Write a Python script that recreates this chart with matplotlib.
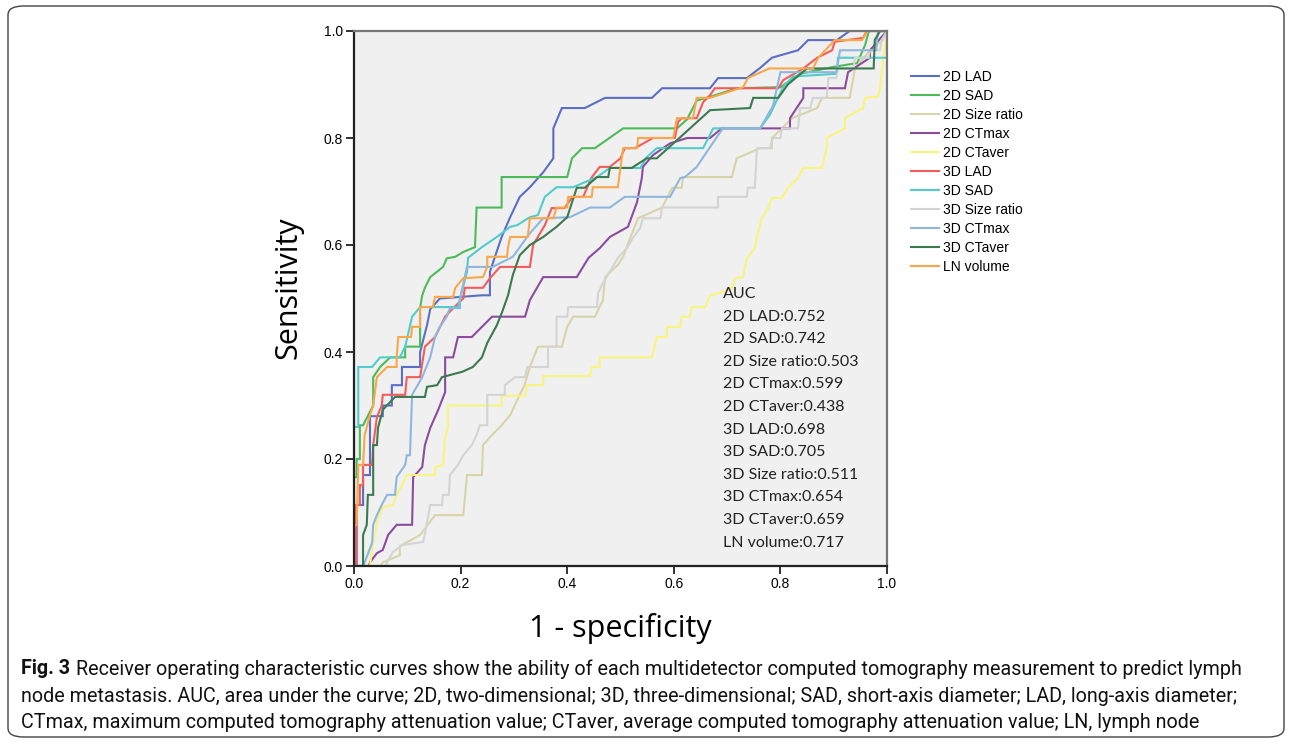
import matplotlib.pyplot as plt
from matplotlib.patches import FancyBboxPatch

plt.rcParams.update({
    'font.family': 'Liberation Sans',
    'font.size': 10,
})

# =====================
# Data ((1 - specificity, sensitivity))
# =====================
labels = ["2D LAD", "2D SAD", "2D Size ratio", "2D CTmax", "2D CTaver",
          "3D LAD", "3D SAD", "3D Size ratio", "3D CTmax", "3D CTaver", "LN volume"]
auc_values = [0.752, 0.742, 0.503, 0.599, 0.438, 0.698, 0.705, 0.511, 0.654, 0.659, 0.717]

lad_2d = [(0, 0), (0.005, 0), (0.005, 0.114), (0.017, 0.114), (0.017, 0.17), (0.03, 0.17),
          (0.03, 0.28), (0.054, 0.28), (0.054, 0.30), (0.071, 0.30), (0.071, 0.338),
          (0.09, 0.338), (0.09, 0.372), (0.124, 0.372), (0.124, 0.40), (0.137, 0.45),
          (0.143, 0.48), (0.161, 0.5), (0.24, 0.506), (0.255, 0.506), (0.255, 0.55),
          (0.277, 0.615), (0.293, 0.652), (0.311, 0.69), (0.33, 0.708), (0.355, 0.736),
          (0.374, 0.762), (0.374, 0.818), (0.39, 0.856), (0.433, 0.856), (0.471, 0.875),
          (0.559, 0.875), (0.578, 0.893), (0.668, 0.893), (0.683, 0.912), (0.737, 0.912),
          (0.762, 0.931), (0.784, 0.95), (0.833, 0.964), (0.852, 0.983), (0.906, 0.983),
          (0.93, 1.0), (1, 1)]

sad_2d = [(0, 0), (0, 0.166), (0.005, 0.166), (0.005, 0.2), (0.011, 0.2), (0.011, 0.263),
          (0.017, 0.263), (0.036, 0.30), (0.036, 0.353), (0.049, 0.372), (0.068, 0.39),
          (0.096, 0.39), (0.096, 0.41), (0.124, 0.41), (0.124, 0.482), (0.128, 0.506),
          (0.133, 0.52), (0.143, 0.54), (0.167, 0.559), (0.174, 0.575), (0.19, 0.578),
          (0.205, 0.587), (0.227, 0.596), (0.23, 0.67), (0.277, 0.67), (0.277, 0.727),
          (0.40, 0.727), (0.409, 0.762), (0.428, 0.781), (0.452, 0.781), (0.505, 0.818),
          (0.606, 0.818), (0.625, 0.835), (0.643, 0.87), (0.668, 0.877), (0.718, 0.893),
          (0.8, 0.895), (0.837, 0.92), (0.9, 0.933), (0.944, 0.94), (0.959, 0.974),
          (0.966, 1.0), (1, 1)]

ratio_2d = [(0, 0), (0.05, 0), (0.054, 0.007), (0.086, 0.02), (0.086, 0.037), (0.124, 0.058),
            (0.152, 0.095), (0.205, 0.095), (0.212, 0.17), (0.24, 0.17), (0.242, 0.226),
            (0.259, 0.245), (0.277, 0.263), (0.293, 0.282), (0.311, 0.32), (0.32, 0.338),
            (0.33, 0.372), (0.345, 0.41), (0.39, 0.41), (0.40, 0.447), (0.411, 0.466),
            (0.452, 0.466), (0.467, 0.497), (0.471, 0.54), (0.495, 0.563), (0.505, 0.578),
            (0.518, 0.613), (0.533, 0.65), (0.578, 0.67), (0.597, 0.707), (0.615, 0.707),
            (0.617, 0.727), (0.709, 0.727), (0.718, 0.762), (0.762, 0.781), (0.784, 0.781),
            (0.784, 0.80), (0.803, 0.818), (0.822, 0.837), (0.869, 0.856), (0.878, 0.875),
            (0.93, 0.875), (0.94, 0.93), (0.968, 0.964), (0.98, 0.974), (0.992, 0.983),
            (1, 1)]

ctmax_2d = [(0, 0), (0.028, 0), (0.03, 0.007), (0.043, 0.024), (0.054, 0.03), (0.064, 0.058),
            (0.08, 0.077), (0.109, 0.077), (0.111, 0.166), (0.128, 0.185), (0.133, 0.226),
            (0.143, 0.258), (0.158, 0.292), (0.171, 0.325), (0.171, 0.39), (0.186, 0.39),
            (0.195, 0.428), (0.221, 0.428), (0.259, 0.466), (0.321, 0.466), (0.33, 0.497),
            (0.355, 0.54), (0.418, 0.54), (0.44, 0.576), (0.461, 0.594), (0.48, 0.615),
            (0.514, 0.634), (0.531, 0.68), (0.54, 0.725), (0.542, 0.746), (0.561, 0.768),
            (0.593, 0.79), (0.625, 0.80), (0.668, 0.80), (0.69, 0.818), (0.818, 0.818),
            (0.818, 0.837), (0.843, 0.875), (0.843, 0.893), (0.921, 0.893), (0.927, 0.923),
            (0.968, 0.95), (0.968, 0.964), (0.99, 0.989), (1, 1)]

ctaver_2d = [(0, 0), (0.03, 0), (0.034, 0.034), (0.043, 0.082), (0.045, 0.09), (0.054, 0.11),
             (0.073, 0.114), (0.08, 0.133), (0.09, 0.151), (0.099, 0.17), (0.152, 0.17),
             (0.152, 0.185), (0.167, 0.189), (0.171, 0.241), (0.176, 0.258), (0.176, 0.30),
             (0.277, 0.30), (0.277, 0.318), (0.321, 0.318), (0.325, 0.338), (0.355, 0.338),
             (0.355, 0.355), (0.443, 0.355), (0.446, 0.372), (0.461, 0.372), (0.461, 0.39),
             (0.559, 0.39), (0.568, 0.428), (0.587, 0.428), (0.587, 0.447), (0.612, 0.447),
             (0.615, 0.466), (0.63, 0.466), (0.634, 0.484), (0.659, 0.484), (0.668, 0.506),
             (0.692, 0.512), (0.709, 0.52), (0.715, 0.538), (0.73, 0.54), (0.737, 0.575),
             (0.752, 0.594), (0.756, 0.615), (0.765, 0.65), (0.777, 0.669), (0.784, 0.688),
             (0.803, 0.688), (0.814, 0.707), (0.833, 0.725), (0.843, 0.744), (0.878, 0.744),
             (0.887, 0.781), (0.887, 0.80), (0.921, 0.818), (0.921, 0.837), (0.955, 0.856),
             (0.959, 0.875), (0.983, 0.877), (0.987, 0.893), (0.993, 0.95), (1, 0.99), (1, 1)]

lad_3d = [(0, 0), (0.004, 0), (0.004, 0.114), (0.011, 0.114), (0.011, 0.151), (0.017, 0.151),
          (0.017, 0.189), (0.034, 0.189), (0.036, 0.226), (0.043, 0.278), (0.052, 0.30),
          (0.054, 0.32), (0.096, 0.32), (0.099, 0.353), (0.124, 0.353), (0.133, 0.41),
          (0.152, 0.428), (0.171, 0.466), (0.186, 0.482), (0.205, 0.5), (0.208, 0.52),
          (0.242, 0.52), (0.255, 0.538), (0.274, 0.559), (0.33, 0.559), (0.336, 0.6),
          (0.358, 0.637), (0.371, 0.669), (0.395, 0.669), (0.41, 0.69), (0.43, 0.69),
          (0.445, 0.725), (0.461, 0.746), (0.48, 0.746), (0.5, 0.762), (0.508, 0.781),
          (0.527, 0.781), (0.561, 0.80), (0.602, 0.80), (0.608, 0.83), (0.615, 0.837),
          (0.643, 0.837), (0.655, 0.867), (0.668, 0.88), (0.677, 0.893), (0.796, 0.893),
          (0.805, 0.908), (0.843, 0.93), (0.869, 0.95), (0.897, 0.964), (0.902, 0.98),
          (0.955, 0.987), (0.962, 1.0), (1, 1)]

sad_3d = [(0, 0), (0, 0.26), (0.008, 0.26), (0.008, 0.372), (0.034, 0.372), (0.049, 0.39),
          (0.086, 0.39), (0.096, 0.41), (0.109, 0.466), (0.124, 0.484), (0.195, 0.484),
          (0.199, 0.5), (0.212, 0.55), (0.214, 0.576), (0.24, 0.596), (0.268, 0.615),
          (0.293, 0.634), (0.306, 0.637), (0.33, 0.652), (0.345, 0.656), (0.358, 0.69),
          (0.38, 0.708), (0.411, 0.708), (0.456, 0.727), (0.48, 0.744), (0.537, 0.744),
          (0.549, 0.764), (0.568, 0.781), (0.655, 0.781), (0.674, 0.818), (0.762, 0.818),
          (0.78, 0.843), (0.805, 0.895), (0.824, 0.915), (0.906, 0.92), (0.908, 0.95),
          (1, 0.95), (1, 1)]

ratio_3d = [(0, 0), (0.06, 0), (0.062, 0.007), (0.073, 0.026), (0.09, 0.039), (0.13, 0.045),
            (0.143, 0.114), (0.165, 0.114), (0.167, 0.133), (0.178, 0.133), (0.18, 0.17),
            (0.195, 0.189), (0.205, 0.207), (0.221, 0.226), (0.23, 0.245), (0.236, 0.263),
            (0.25, 0.263), (0.25, 0.32), (0.283, 0.32), (0.283, 0.338), (0.302, 0.353),
            (0.321, 0.353), (0.325, 0.372), (0.364, 0.372), (0.364, 0.41), (0.38, 0.41),
            (0.38, 0.466), (0.40, 0.466), (0.402, 0.484), (0.456, 0.484), (0.458, 0.51),
            (0.465, 0.525), (0.495, 0.576), (0.512, 0.594), (0.523, 0.613), (0.537, 0.632),
            (0.542, 0.65), (0.575, 0.65), (0.578, 0.67), (0.683, 0.67), (0.683, 0.69),
            (0.737, 0.69), (0.739, 0.707), (0.752, 0.707), (0.756, 0.781), (0.78, 0.781),
            (0.786, 0.80), (0.80, 0.80), (0.803, 0.818), (0.833, 0.818), (0.837, 0.856),
            (0.856, 0.856), (0.861, 0.875), (0.887, 0.875), (0.89, 0.912), (0.905, 0.912),
            (0.908, 0.93), (0.937, 0.93), (0.94, 0.95), (0.965, 0.95), (0.968, 0.964),
            (0.987, 0.964), (0.99, 0.983), (1, 1)]

ctmax_3d = [(0, 0), (0.018, 0), (0.02, 0.007), (0.034, 0.043), (0.036, 0.077), (0.043, 0.095),
            (0.052, 0.114), (0.062, 0.133), (0.077, 0.133), (0.08, 0.166), (0.096, 0.189),
            (0.099, 0.207), (0.105, 0.207), (0.109, 0.32), (0.128, 0.353), (0.143, 0.39),
            (0.152, 0.428), (0.161, 0.447), (0.174, 0.466), (0.18, 0.482), (0.199, 0.482),
            (0.199, 0.5), (0.212, 0.559), (0.26, 0.559), (0.298, 0.578), (0.33, 0.622),
            (0.355, 0.65), (0.405, 0.652), (0.443, 0.67), (0.48, 0.67), (0.508, 0.69),
            (0.593, 0.69), (0.612, 0.725), (0.621, 0.727), (0.643, 0.746), (0.668, 0.783),
            (0.692, 0.818), (0.762, 0.818), (0.786, 0.86), (0.80, 0.923), (0.905, 0.923),
            (0.912, 0.964), (0.98, 0.964), (0.983, 1.0), (1, 1)]

ctaver_3d = [(0, 0), (0.017, 0), (0.017, 0.058), (0.024, 0.077), (0.026, 0.133), (0.036, 0.133),
             (0.036, 0.226), (0.043, 0.226), (0.045, 0.258), (0.054, 0.292), (0.077, 0.316),
             (0.133, 0.316), (0.137, 0.335), (0.156, 0.338), (0.165, 0.353), (0.203, 0.363),
             (0.223, 0.372), (0.24, 0.39), (0.25, 0.417), (0.268, 0.45), (0.278, 0.475),
             (0.289, 0.506), (0.298, 0.544), (0.311, 0.581), (0.33, 0.6), (0.355, 0.615),
             (0.38, 0.634), (0.40, 0.652), (0.418, 0.707), (0.433, 0.707), (0.456, 0.727),
             (0.477, 0.727), (0.48, 0.744), (0.521, 0.744), (0.549, 0.762), (0.568, 0.762),
             (0.606, 0.796), (0.668, 0.852), (0.743, 0.856), (0.749, 0.875), (0.796, 0.875),
             (0.814, 0.9), (0.85, 0.93), (0.975, 0.93), (0.977, 0.983), (0.987, 1.0), (1, 1)]

ln_volume = [(0, 0), (0, 0.075), (0.005, 0.077), (0.008, 0.189), (0.017, 0.189), (0.02, 0.245),
             (0.03, 0.282), (0.036, 0.30), (0.043, 0.353), (0.062, 0.372), (0.08, 0.372),
             (0.08, 0.39), (0.083, 0.428), (0.107, 0.428), (0.109, 0.447), (0.124, 0.447),
             (0.124, 0.484), (0.148, 0.484), (0.152, 0.503), (0.186, 0.503), (0.19, 0.52),
             (0.205, 0.538), (0.242, 0.54), (0.25, 0.559), (0.25, 0.578), (0.287, 0.578),
             (0.289, 0.596), (0.293, 0.615), (0.326, 0.615), (0.33, 0.65), (0.374, 0.65),
             (0.38, 0.67), (0.40, 0.67), (0.402, 0.69), (0.446, 0.69), (0.448, 0.708),
             (0.495, 0.708), (0.505, 0.781), (0.531, 0.781), (0.533, 0.80), (0.599, 0.80),
             (0.606, 0.837), (0.636, 0.837), (0.643, 0.875), (0.668, 0.875), (0.73, 0.895),
             (0.739, 0.912), (0.779, 0.93), (0.861, 0.93), (0.871, 0.95), (0.902, 0.983),
             (0.953, 0.983), (0.964, 1.0), (1, 1)]

curves = [lad_2d, sad_2d, ratio_2d, ctmax_2d, ctaver_2d,
          lad_3d, sad_3d, ratio_3d, ctmax_3d, ctaver_3d, ln_volume]

colors = ["#5a6fc4", "#4dbb5a", "#d9d4a8", "#8b4c9e", "#f8f47e",
          "#f45b5b", "#52cccc", "#d4d4d4", "#8fb6de", "#3b7a4f", "#f8a84a"]

caption_lines = [
    "Receiver operating characteristic curves show the ability of each multidetector computed tomography measurement to predict lymph",
    "node metastasis. AUC, area under the curve; 2D, two-dimensional; 3D, three-dimensional; SAD, short-axis diameter; LAD, long-axis diameter;",
    "CTmax, maximum computed tomography attenuation value; CTaver, average computed tomography attenuation value; LN, lymph node",
]

# =====================
# Figure
# =====================
fig = plt.figure(figsize=(12.92, 7.45), dpi=100)

# rounded frame round the whole figure
frame = FancyBboxPatch((8 / 1292, 8 / 745), 1 - 16 / 1292, 1 - 14 / 745,
                       boxstyle="round,pad=0,rounding_size=0.012",
                       transform=fig.transFigure, facecolor="none",
                       edgecolor="#444444", linewidth=1.0, zorder=-1)
fig.patches.append(frame)

ax = fig.add_axes([354 / 1292, 1 - 566 / 745, 533 / 1292, 535 / 745])
ax.set_facecolor("#f0f0f0")

for pts, c, lab in zip(curves, colors, labels):
    xs = [p[0] for p in pts]
    ys = [p[1] for p in pts]
    ax.plot(xs, ys, color=c, linewidth=1.5, label=lab, solid_joinstyle="miter")

ax.set_xlim(0, 1)
ax.set_ylim(0, 1)
ticks = [0.0, 0.2, 0.4, 0.6, 0.8, 1.0]
ax.set_xticks(ticks)
ax.set_yticks(ticks)
ax.set_xticklabels([f"{t:.1f}" for t in ticks], fontsize=10)
ax.set_yticklabels([f"{t:.1f}" for t in ticks], fontsize=10)
ax.tick_params(direction="out", length=6, width=1.3, color="#222222", pad=2)

for side in ["left", "bottom"]:
    ax.spines[side].set_color("#222222")
    ax.spines[side].set_linewidth(1.6)
for side in ["top", "right"]:
    ax.spines[side].set_color("#777777")
    ax.spines[side].set_linewidth(1.6)

ax.set_xlabel("1 - specificity", fontsize=22, family="Open Sans", va="center")
ax.set_ylabel("Sensitivity", fontsize=22, family="Open Sans", va="center")
ax.xaxis.set_label_coords(0.5, (566 - 628) / 535)
ax.yaxis.set_label_coords((288 - 354) / 533, (566 - 288) / 535)

# AUC block inside the plot
auc_lines = ["AUC"] + [f"{lab}:{v:.3f}" for lab, v in zip(labels, auc_values)]
y_top = (566 - 294) / 535
step = 22.6 / 535
for i, line in enumerate(auc_lines):
    ax.text(0.692, y_top - i * step, line, transform=ax.transAxes,
            fontsize=11.5, family="Lato", va="center", ha="left", color="#222222")

# legend to the right of the plot
fig.legend(loc="upper left", bbox_to_anchor=(911 / 1292, 1 - 70 / 745),
           frameon=False, fontsize=10, handlelength=2.0, handletextpad=0.3,
           labelspacing=0.36, borderpad=0, borderaxespad=0)

# caption
renderer = fig.canvas.get_renderer()
line_y = [669, 697, 723]
cap_size = 14.2
bold = fig.text(21 / 1292, 1 - line_y[0] / 745, "Fig. 3", fontsize=cap_size, family="Roboto",
                fontweight="bold", va="center", ha="left", color="#111111")
bb = bold.get_window_extent(renderer=renderer)
fig.text((bb.x1 + 6) / 1292, 1 - line_y[0] / 745, caption_lines[0], fontsize=cap_size,
         family="Roboto", va="center", ha="left", color="#111111")
for yy, line in zip(line_y[1:], caption_lines[1:]):
    fig.text(21 / 1292, 1 - yy / 745, line, fontsize=cap_size, family="Roboto",
             va="center", ha="left", color="#111111")

fig.savefig("out.png", dpi=100)
